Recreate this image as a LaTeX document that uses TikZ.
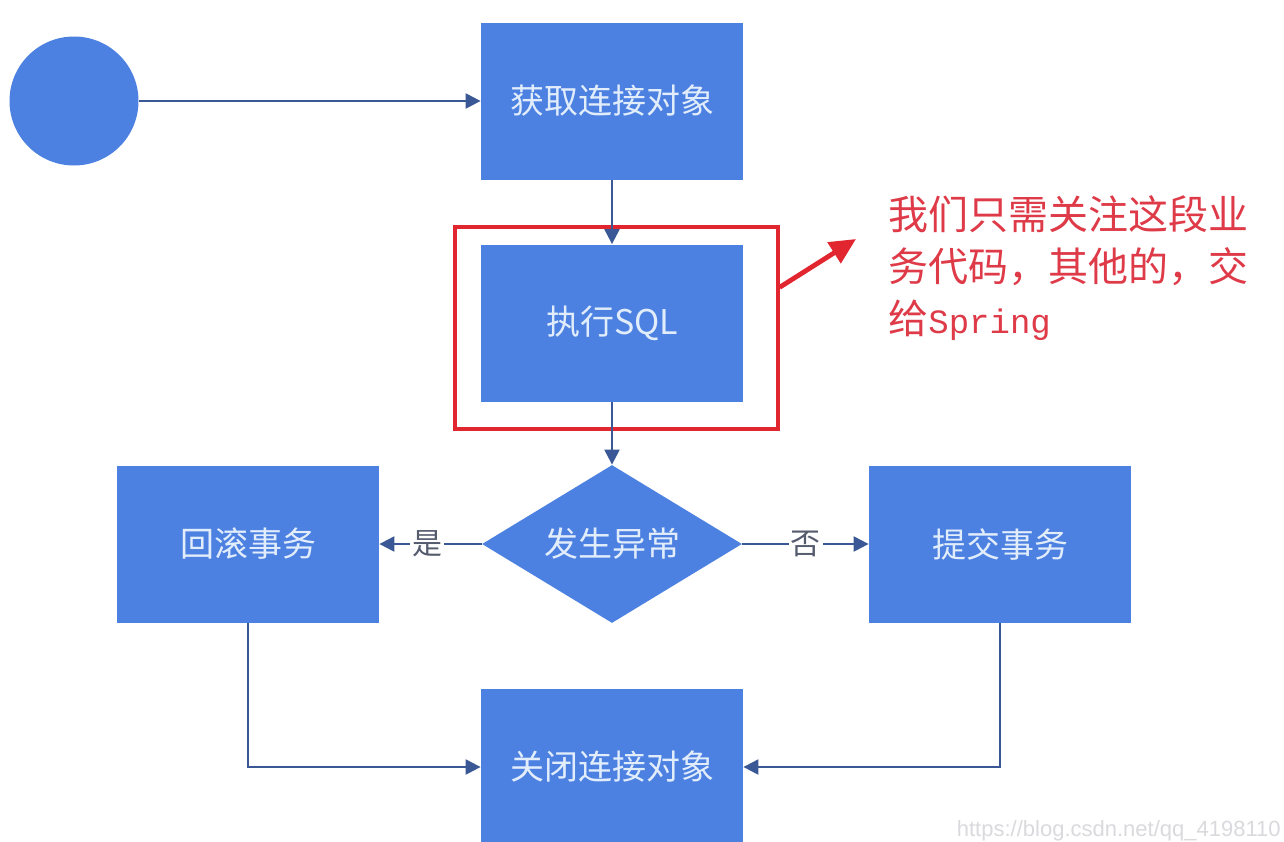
\documentclass[tikz,border=0pt]{standalone}
\usepackage{fontspec}
\setmainfont{Liberation Sans}
\newfontfamily\cjk{Noto Sans CJK SC}
\newfontfamily\monofnt{Liberation Mono}
\usetikzlibrary{arrows.meta,shapes.geometric}
\definecolor{boxblue}{RGB}{76,129,225}
\definecolor{linecol}{RGB}{58,88,150}
\definecolor{boxtext}{RGB}{226,237,252}
\definecolor{redmark}{RGB}{226,38,48}
\definecolor{redtext}{RGB}{222,58,72}
\definecolor{labelgray}{RGB}{85,92,110}
\definecolor{wmgray}{RGB}{218,218,222}
\begin{document}
\begin{tikzpicture}[x=0.5pt,y=-0.5pt,
  flowbox/.style={rectangle, fill=boxblue, minimum width=131pt, minimum height=78.5pt,
    inner sep=0pt, text=boxtext, font=\cjk\fontsize{17pt}{20pt}\selectfont},
  decision/.style={diamond, fill=boxblue, shape aspect=1.65, minimum width=130pt,
    minimum height=79pt, inner sep=0pt, text=boxtext, font=\cjk\fontsize{17pt}{20pt}\selectfont},
  startdot/.style={circle, fill=boxblue, minimum size=64.5pt, inner sep=0pt},
  conn/.style={draw=linecol, line width=1.1pt, -{Triangle[length=7.5pt,width=7.5pt]}},
  lbl/.style={fill=white, inner sep=1pt, text=labelgray, font=\cjk\fontsize{15pt}{17pt}\selectfont},
  focusbox/.style={rectangle, draw=redmark, line width=1.6pt, minimum width=161.5pt,
    minimum height=101pt, inner sep=0pt},
  note/.style={align=left, anchor=west, text=redtext, inner sep=0pt,
    font=\cjk\fontsize{20pt}{26pt}\selectfont}
]
\useasboundingbox (0,0) rectangle (1284,841);
\fill[white] (0,0) rectangle (1284,841);

% red focus frame (behind)
\node[focusbox] (focus) at (616.5,328) {};

% nodes
\node[startdot] (start) at (74,101) {};
\node[flowbox] (conn1) at (612,101) {获取连接对象};
\node[flowbox] (exec) at (612,323) {执行SQL};
\node[decision] (dec) at (612,544) {发生异常};
\node[flowbox] (rollback) at (248,544) {回滚事务};
\node[flowbox] (commit) at (1000,544) {提交事务};
\node[flowbox] (close) at (612,767) {关闭连接对象};

% connectors
\draw[conn] (start) -- (conn1.west);
\draw[conn] (conn1.south) -- (exec.north);
\draw[conn] (exec.south) -- (dec.north);
\draw[conn] (dec.west) -- node[lbl, pos=0.53] {是} (rollback.east);
\draw[conn] (dec.east) -- node[lbl, pos=0.5] {否} (commit.west);
\draw[conn] (rollback.south) |- (close.west);
\draw[conn] (commit.south) |- (close.east);

% annotation
\coordinate (redtip) at (856,239);
\draw[redmark, line width=2.4pt, -{Triangle[length=13pt,width=12pt]}] (focus.14) -- (redtip);
\node[note] (notetext) at (888,268) {我们只需关注这段业\\务代码，其他的，交\\给{\monofnt\fontsize{17pt}{26pt}\selectfont Spring}};

% watermark
\node[anchor=base east, inner sep=0pt, text=wmgray, font=\fontsize{11pt}{13pt}\selectfont] (wm) at (1281,836) {https://blog.csdn.net/qq\_4198110};
\end{tikzpicture}
\end{document}
